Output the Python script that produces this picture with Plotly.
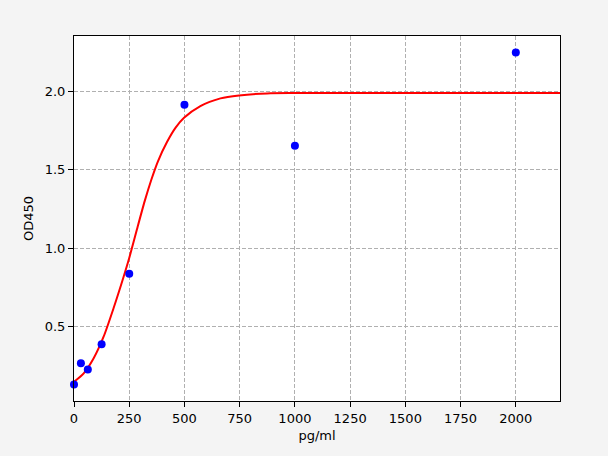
import plotly.graph_objects as go

# Measured standards
conc = [0, 31.25, 62.5, 125, 250, 500, 1000, 2000]
od = [0.128, 0.263, 0.224, 0.385, 0.835, 1.917, 1.654, 2.25]

# Fitted curve
curve_x = [0, 44, 89, 134, 179, 225, 250, 285, 320, 350, 380, 421, 460, 498, 572, 663, 747, 874, 1000, 1500, 2200]
curve_y = [0.145, 0.199, 0.295, 0.433, 0.615, 0.818, 0.936, 1.12, 1.30, 1.437, 1.555, 1.678, 1.77, 1.833, 1.908, 1.957, 1.976, 1.989, 1.991, 1.992, 1.992]

x_ticks = [0, 250, 500, 750, 1000, 1250, 1500, 1750, 2000]
y_ticks = [0.5, 1.0, 1.5, 2.0]

fig = go.Figure()
fig.add_trace(go.Scatter(x=curve_x, y=curve_y, mode="lines",
                         line=dict(color="#ff0000", width=2, shape="spline", smoothing=0.7),
                         hoverinfo="skip", showlegend=False))
fig.add_trace(go.Scatter(x=conc, y=od, mode="markers",
                         marker=dict(color="#0000ff", size=8),
                         showlegend=False, cliponaxis=False))

axis_common = dict(
    showline=True, linecolor="black", linewidth=1, mirror=True,
    ticks="outside", ticklen=5, tickcolor="black", tickwidth=1,
    showgrid=True, gridcolor="#b0b0b0", gridwidth=0.8, griddash="4px,2px",
    zeroline=False,
    tickfont=dict(family="DejaVu Sans", size=13, color="black"),
    title_font=dict(family="DejaVu Sans", size=13, color="black"),
)

fig.update_xaxes(range=[0, 2200], tickvals=x_ticks, ticktext=[str(v) for v in x_ticks],
                 title_text="pg/ml", title_standoff=6, **axis_common)
fig.update_yaxes(range=[0.022, 2.356], tickvals=y_ticks, ticktext=[f"{v:.1f}" for v in y_ticks],
                 title_text="OD450", title_standoff=8, **axis_common)

fig.update_layout(
    width=608, height=456,
    margin=dict(l=74, r=48, t=36, b=55),
    paper_bgcolor="#f4f4f4", plot_bgcolor="white",
    font=dict(family="DejaVu Sans", size=13, color="black"),
)

fig.write_html("out.html", config={"displayModeBar": False},
               post_script="document.body.style.margin='0';document.body.style.background='#f4f4f4';")
